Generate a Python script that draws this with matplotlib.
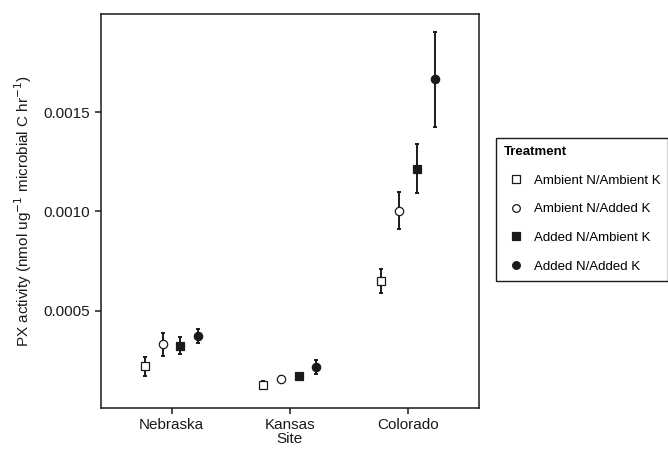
import numpy as np
import matplotlib
matplotlib.use('Agg')
import matplotlib.pyplot as plt
from matplotlib.lines import Line2D

plt.rcParams['font.family'] = ['Liberation Sans', 'DejaVu Sans']

sites = ['Nebraska', 'Kansas', 'Colorado']
treatments = ['Ambient N/Ambient K', 'Ambient N/Added K',
              'Added N/Ambient K', 'Added N/Added K']

# mean, lower, upper per treatment (order: Nebraska, Kansas, Colorado)
mean_aa = [0.000222, 0.000126, 0.000650]
low_aa = [0.000171, 0.000104, 0.000588]
up_aa = [0.000265, 0.000148, 0.000708]

mean_ad = [0.000331, 0.000158, 0.001002]
low_ad = [0.000273, 0.000143, 0.000910]
up_ad = [0.000386, 0.000173, 0.001096]

mean_da = [0.000324, 0.000173, 0.001214]
low_da = [0.000280, 0.000165, 0.001091]
up_da = [0.000368, 0.000181, 0.001340]

mean_dd = [0.000373, 0.000217, 0.001667]
low_dd = [0.000336, 0.000181, 0.001427]
up_dd = [0.000408, 0.000252, 0.001905]

series = [(mean_aa, low_aa, up_aa), (mean_ad, low_ad, up_ad),
          (mean_da, low_da, up_da), (mean_dd, low_dd, up_dd)]
markers = ['s', 'o', 's', 'o']
faces = ['white', 'white', '#1a1a1a', '#1a1a1a']
offsets = [-0.225, -0.075, 0.075, 0.225]

fig = plt.figure(figsize=(6.68, 4.5), dpi=100)
ax = fig.add_axes([0.1507, 0.0933, 0.5663, 0.8756])

x = np.arange(1, len(sites) + 1)
for (m, lo, hi), mk, fc, off in zip(series, markers, faces, offsets):
    m = np.array(m)
    yerr = [m - np.array(lo), np.array(hi) - m]
    ax.errorbar(x + off, m, yerr=yerr, fmt='none', ecolor='#1a1a1a',
                elinewidth=1.4, capsize=1.5, capthick=1.4, zorder=2)
    ax.plot(x + off, m, linestyle='none', marker=mk, markersize=6,
            markerfacecolor=fc, markeredgecolor='#1a1a1a',
            markeredgewidth=0.9, zorder=3)

ax.set_xlim(0.4, 3.6)
ax.set_ylim(0.00001, 0.001994)
ax.set_xticks(x)
ax.set_xticklabels(sites)
ax.set_yticks([0.0005, 0.0010, 0.0015])
ax.set_yticklabels(['0.0005', '0.0010', '0.0015'])
ax.tick_params(labelsize=11, colors='#1a1a1a', length=4, width=1.1,
               labelcolor='#1a1a1a')
for s in ax.spines.values():
    s.set_linewidth(1.1)
    s.set_color('#1a1a1a')
ax.set_xlabel('Site', fontsize=11, labelpad=0, color='#1a1a1a')
ax.set_ylabel('PX activity (nmol ug$^{-1}$ microbial C hr$^{-1}$)',
              fontsize=11, color='#1a1a1a', labelpad=7)

handles = [Line2D([], [], linestyle='none', marker=mk, markersize=5.5,
                  markerfacecolor=fc, markeredgecolor='#1a1a1a',
                  markeredgewidth=0.9)
           for mk, fc in zip(markers, faces)]
leg = fig.legend(handles, treatments, title='Treatment', loc='upper left',
                 bbox_to_anchor=(496 / 668, 1 - 138 / 450), fontsize=9.5,
                 title_fontsize=9.5, fancybox=False, edgecolor='#1a1a1a',
                 framealpha=1, handlelength=1.8, handletextpad=0.45,
                 labelspacing=1.25, borderpad=0.6, borderaxespad=0,
                 alignment='left')
leg.get_title().set_fontweight('bold')
leg.get_frame().set_linewidth(1.0)

fig.savefig('out.png', dpi=100)
